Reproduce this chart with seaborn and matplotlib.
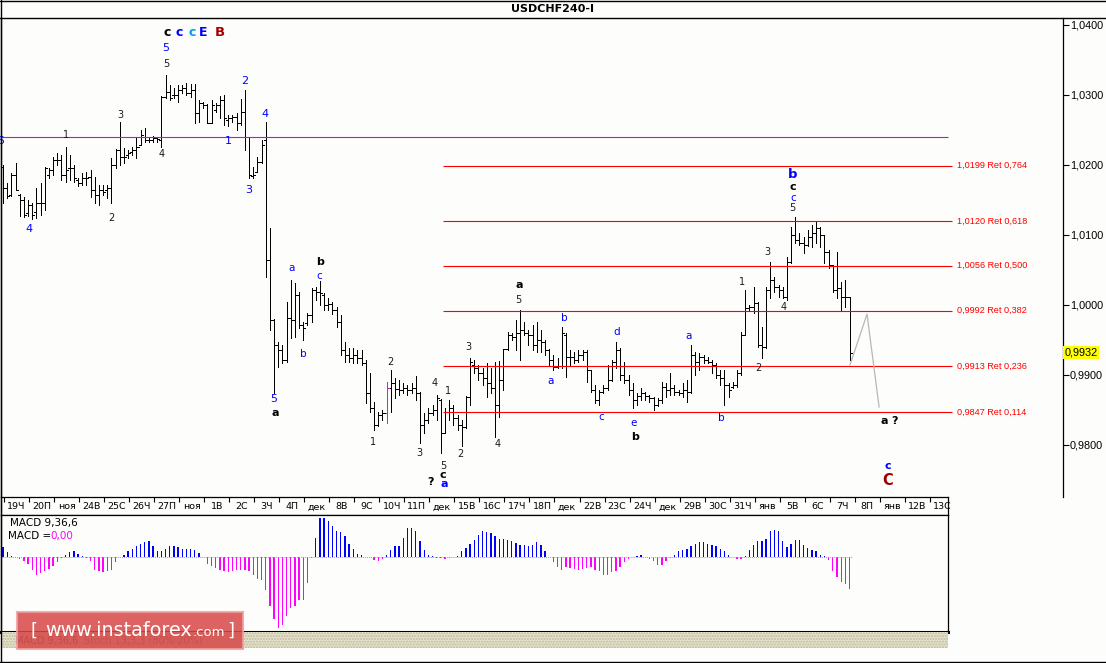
import matplotlib
matplotlib.use('Agg')
import matplotlib.pyplot as plt
import matplotlib.transforms as mtransforms
from matplotlib.patches import Rectangle
from matplotlib.lines import Line2D
import numpy as np
import pandas as pd
import seaborn as sns

# USDCHF H4 bars, prices in pips (price * 10000)
bar_open = [
    10197, 10167, 10157, 10186, 10157, 10150, 10131, 10143, 10133, 10146,
    10146, 10186, 10193, 10207, 10207, 10186, 10196, 10196, 10179, 10174,
    10181, 10183, 10164, 10157, 10164, 10164, 10167, 10200, 10221, 10211,
    10214, 10219, 10221, 10229, 10240, 10236, 10236, 10239, 10236, 10297,
    10304, 10300, 10300, 10307, 10310, 10303, 10307, 10274, 10289, 10286,
    10260, 10279, 10286, 10293, 10264, 10267, 10269, 10260, 10276, 10240,
    10184, 10190, 10204, 10236, 10064, 9979, 9943, 9936, 9921, 9981,
    9979, 10014, 9971, 9974, 9986, 10021, 10019, 10014, 10000, 10001,
    9993, 9976, 9936, 9929, 9924, 9929, 9924, 9917, 9874, 9853,
    9829, 9843, 9846, 9881, 9889, 9880, 9879, 9881, 9879, 9881,
    9874, 9829, 9836, 9846, 9850, 9864, 9817, 9847, 9853, 9839,
    9829, 9826, 9869, 9914, 9910, 9903, 9896, 9889, 9881, 9857,
    9893, 9937, 9957, 9954, 9960, 9964, 9960, 9957, 9943, 9950,
    9947, 9936, 9921, 9911, 9913, 9957, 9926, 9926, 9921, 9929,
    9933, 9907, 9879, 9864, 9876, 9881, 9893, 9919, 9936, 9900,
    9893, 9879, 9864, 9870, 9874, 9870, 9867, 9857, 9864, 9883,
    9879, 9881, 9876, 9874, 9879, 9876, 9929, 9919, 9926, 9921,
    9919, 9914, 9900, 9896, 9886, 9883, 9886, 9903, 9957, 9996,
    9997, 10003, 9943, 9940, 10021, 10036, 10026, 10021, 10011, 10061,
    10100, 10093, 10089, 10086, 10097, 10103, 10110, 10100, 10076, 10057,
    10021, 10024, 10011, 10011,
]
bar_high = [
    10200, 10174, 10189, 10203, 10159, 10154, 10150, 10146, 10167, 10174,
    10197, 10196, 10211, 10217, 10214, 10226, 10214, 10200, 10181, 10189,
    10190, 10193, 10183, 10171, 10171, 10171, 10210, 10223, 10261, 10224,
    10221, 10226, 10240, 10250, 10253, 10240, 10241, 10240, 10299, 10329,
    10314, 10310, 10314, 10314, 10317, 10316, 10316, 10293, 10290, 10287,
    10293, 10289, 10299, 10300, 10271, 10271, 10274, 10294, 10307, 10240,
    10197, 10211, 10236, 10261, 10110, 9980, 9947, 9943, 10004, 10036,
    10031, 10019, 9976, 9989, 10024, 10026, 10034, 10017, 10010, 10004,
    9997, 9986, 9947, 9939, 9939, 9936, 9936, 9921, 9903, 9861,
    9847, 9850, 9890, 9907, 9896, 9893, 9889, 9886, 9889, 9899,
    9876, 9846, 9853, 9857, 9871, 9866, 9853, 9864, 9857, 9843,
    9836, 9870, 9924, 9921, 9914, 9910, 9917, 9910, 9919, 9920,
    9937, 9961, 9960, 9979, 9993, 9976, 9964, 9971, 9976, 9964,
    9950, 9937, 9929, 9924, 9969, 9960, 9936, 9933, 9936, 9936,
    9936, 9907, 9886, 9879, 9886, 9914, 9921, 9947, 9939, 9919,
    9900, 9889, 9874, 9881, 9876, 9871, 9869, 9867, 9890, 9889,
    9903, 9886, 9879, 9889, 9893, 9943, 9933, 9931, 9929, 9926,
    9921, 9917, 9907, 9907, 9889, 9890, 9907, 9961, 10021, 10000,
    10026, 10004, 9969, 10026, 10061, 10040, 10029, 10026, 10069, 10111,
    10126, 10103, 10097, 10107, 10114, 10119, 10111, 10100, 10079, 10057,
    10076, 10033, 10036, 10011,
]
bar_low = [
    10146, 10153, 10156, 10164, 10127, 10126, 10127, 10123, 10124, 10129,
    10136, 10181, 10186, 10200, 10179, 10176, 10179, 10176, 10170, 10171,
    10171, 10154, 10146, 10143, 10157, 10153, 10146, 10196, 10200, 10203,
    10210, 10214, 10210, 10229, 10233, 10233, 10233, 10233, 10226, 10296,
    10293, 10296, 10290, 10303, 10300, 10297, 10260, 10261, 10281, 10260,
    10260, 10276, 10267, 10257, 10256, 10261, 10250, 10257, 10221, 10181,
    10181, 10190, 10203, 10040, 9964, 9874, 9911, 9917, 9919, 9953,
    9954, 9967, 9950, 9972, 9976, 10007, 10000, 9993, 9993, 9987,
    9969, 9929, 9919, 9919, 9917, 9917, 9914, 9860, 9847, 9821,
    9827, 9836, 9831, 9847, 9867, 9871, 9874, 9871, 9874, 9864,
    9803, 9817, 9831, 9843, 9836, 9789, 9817, 9836, 9829, 9821,
    9799, 9824, 9857, 9903, 9893, 9886, 9869, 9874, 9811, 9840,
    9879, 9936, 9950, 9936, 9921, 9957, 9943, 9936, 9933, 9933,
    9929, 9914, 9907, 9910, 9910, 9897, 9914, 9917, 9919, 9921,
    9890, 9876, 9860, 9857, 9874, 9879, 9891, 9910, 9893, 9889,
    9871, 9853, 9857, 9864, 9864, 9861, 9850, 9856, 9860, 9869,
    9871, 9871, 9871, 9869, 9861, 9874, 9900, 9907, 9917, 9917,
    9903, 9896, 9886, 9857, 9869, 9881, 9883, 9900, 9957, 9993,
    9989, 9940, 9924, 9939, 10010, 10019, 10011, 10010, 10007, 10060,
    10089, 10086, 10074, 10084, 10083, 10089, 10083, 10060, 10053, 10019,
    10010, 9993, 9997, 9921,
]
bar_close = [
    10167, 10156, 10186, 10164, 10150, 10129, 10143, 10129, 10146, 10146,
    10196, 10193, 10207, 10207, 10186, 10193, 10196, 10181, 10174, 10181,
    10181, 10164, 10157, 10164, 10161, 10167, 10200, 10221, 10211, 10211,
    10217, 10221, 10226, 10243, 10236, 10236, 10239, 10237, 10297, 10304,
    10296, 10300, 10307, 10310, 10303, 10307, 10274, 10289, 10286, 10260,
    10286, 10286, 10293, 10267, 10267, 10269, 10260, 10276, 10240, 10186,
    10186, 10204, 10229, 10064, 9979, 9943, 9936, 9921, 9981, 9979,
    10014, 9971, 9967, 9986, 10021, 10019, 10017, 10000, 10001, 9993,
    9976, 9936, 9929, 9924, 9929, 9924, 9917, 9874, 9853, 9829,
    9843, 9846, 9881, 9889, 9880, 9879, 9881, 9879, 9881, 9874,
    9829, 9836, 9846, 9850, 9867, 9817, 9847, 9853, 9839, 9829,
    9826, 9869, 9919, 9910, 9903, 9896, 9889, 9881, 9857, 9893,
    9937, 9957, 9954, 9960, 9964, 9960, 9957, 9943, 9950, 9947,
    9936, 9921, 9911, 9913, 9960, 9926, 9926, 9921, 9929, 9933,
    9907, 9879, 9864, 9876, 9881, 9893, 9919, 9936, 9900, 9893,
    9879, 9864, 9870, 9874, 9870, 9867, 9857, 9864, 9883, 9879,
    9881, 9876, 9874, 9879, 9876, 9929, 9919, 9926, 9921, 9919,
    9914, 9900, 9896, 9886, 9879, 9886, 9903, 9957, 9996, 9997,
    10003, 9943, 9940, 10021, 10036, 10026, 10021, 10011, 10061, 10100,
    10093, 10089, 10086, 10097, 10103, 10110, 10100, 10076, 10057, 10021,
    10024, 10011, 10011, 9932,
]
highlight_bar = 92  # magenta bar

# MACD(9,36,6) histogram, one value per bar (relative units)
macd_hist = [
    10, 4.7, 1.3, -1, -2, -4.3, -6.7, -12.7, -17.7, -16,
    -14.3, -12, -9.3, -5.3, -1, 2, 4.7, 5.7, 3.3, 0.7,
    -1, -4.3, -12.7, -14.3, -15.3, -14.3, -12.7, -5.3, -0.3, 2.3,
    5.7, 8.3, 10.7, 13.3, 15, 16.3, 11.3, 5.7, 5.7, 8.3,
    10.7, 10.7, 9.7, 8.3, 8.3, 8.3, 7.3, 4, 0, -6.7,
    -9.3, -11, -13.3, -14.3, -15, -13.7, -13.3, -12.7, -13.3, -14.3,
    -17.7, -22, -22.7, -32.7, -49.3, -62, -71, -67.7, -59.3, -51,
    -48.7, -43, -42.7, -26, -1, 19, 39, 39, 36.3, 31.3,
    25.7, 24.7, 20.7, 13.3, 8, 3.3, 2, 0, 0, -2.7,
    -3.7, -1.7, 2.3, 7.3, 10.7, 11.3, 19, 29, 29, 25.7,
    15.7, 7.3, 2.3, 0.7, -1, -1, -2, -1, 0, 1.3,
    5.7, 9, 13.3, 17.3, 22.3, 26.3, 24.7, 24, 20.7, 18,
    18, 17.3, 15.7, 14, 12.3, 12.3, 10.7, 12.3, 15, 12.3,
    6.3, 0, -5.3, -10, -12.7, -10, -11, -12, -12.7, -12,
    -11, -10.3, -12.7, -14.3, -18.3, -17.7, -15.3, -13.7, -10, -5.3,
    -2, 0, 1.3, 2.3, 0, -2, -4.3, -7.7, -7.7, -4.3,
    -1, 2.3, 5.7, 6.7, 8, 10.7, 13.3, 14.7, 14.7, 13.3,
    12.3, 10.7, 8, 6.3, 2.3, 0, -2, -2, 1.3, 7.3,
    12.3, 15.7, 15.7, 18, 25.7, 27.3, 25.7, 15.7, 10, 13.3,
    16.7, 17.3, 12.3, 9, 6.7, 5.7, 2.3, 1, -2.7, -14.3,
    -20, -25.3, -26.7, -32,
]

day_labels = ["19Ч", "20П", "ноя", "24В", "25С", "26Ч", "27П", "ноя", "1В", "2С",
              "3Ч", "4П", "дек", "8В", "9С", "10Ч", "11П", "дек", "15В", "16С",
              "17Ч", "18П", "дек", "22В", "23С", "24Ч", "дек", "29В", "30С", "31Ч",
              "янв", "5В", "6С", "7Ч", "8П", "янв", "12В", "13С"]
price_ticks = [1.04, 1.03, 1.02, 1.01, 1.00, 0.99, 0.98]
current_price = 0.9932

fib_levels = [1.0199, 1.0120, 1.0056, 0.9992, 0.9913, 0.9847]
fib_ratios = [0.764, 0.618, 0.500, 0.382, 0.236, 0.114]
fib_start_bar = 105.5
level_line = 1.0240

# projected path after the last bar
proj_bar = [203.1, 207.2, 210.1]
proj_price = [0.9914, 0.9987, 0.9854]

# wave marks: (bar, price, text, kind)
wave_marks = [
    (39.3, 1.0389, 'c', 'top_k'), (42.2, 1.0389, 'c', 'top_b'), (45.3, 1.0389, 'c', 'top_c'),
    (48.0, 1.0389, 'E', 'top_b'), (52.0, 1.0389, 'B', 'top_r'),
    (39.1, 1.0367, '5', 'bnum'), (39.1, 1.0344, '5', 'num'),
    (-0.6, 1.0234, '5', 'bnum'),
    (15.1, 1.0243, '1', 'num'), (28.1, 1.0271, '3', 'num'), (26.1, 1.0124, '2', 'num'),
    (6.2, 1.0109, '4', 'bnum'), (38.1, 1.0216, '4', 'num'),
    (58.0, 1.0320, '2', 'bnum'), (54.0, 1.0234, '1', 'bnum'), (58.8, 1.0164, '3', 'bnum'),
    (62.8, 1.0273, '4', 'bnum'),
    (69.1, 1.0053, 'a', 'sub'), (76.0, 1.0061, 'b', 'bold'), (75.8, 1.0041, 'c', 'sub'),
    (71.9, 0.9930, 'b', 'sub'), (65.0, 0.9866, '5', 'bnum'), (65.2, 0.9846, 'a', 'bold'),
    (88.7, 0.9804, '1', 'num'), (92.8, 0.9919, '2', 'num'), (99.8, 0.9789, '3', 'num'),
    (103.6, 0.9889, '4', 'num'), (106.7, 0.9877, '1', 'num'), (109.6, 0.9787, '2', 'num'),
    (105.5, 0.9770, '5', 'num'), (105.5, 0.9757, 'c', 'bold'), (105.8, 0.9744, 'a', 'bsub'),
    (102.6, 0.9747, '?', 'bold'),
    (111.5, 0.9940, '3', 'num'), (118.5, 0.9801, '4', 'num'), (123.5, 1.0007, '5', 'num'),
    (123.7, 1.0029, 'a', 'bold'),
    (134.5, 0.9981, 'b', 'sub'), (131.4, 0.9891, 'a', 'sub'), (147.2, 0.9961, 'd', 'sub'),
    (143.4, 0.9840, 'c', 'sub'), (151.3, 0.9831, 'e', 'sub'), (151.6, 0.9811, 'b', 'bold'),
    (164.3, 0.9956, 'a', 'sub'), (172.2, 0.9839, 'b', 'sub'),
    (177.2, 1.0033, '1', 'num'), (181.1, 0.9910, '2', 'num'), (183.2, 1.0076, '3', 'num'),
    (187.1, 0.9997, '4', 'num'),
    (189.4, 1.0186, 'b', 'big_b'), (189.4, 1.0169, 'c', 'bold'), (189.4, 1.0153, 'c', 'sub'),
    (189.4, 1.0139, '5', 'num'),
    (211.3, 0.9834, 'a', 'bold'), (213.9, 0.9834, '?', 'bold'),
    (212.2, 0.9770, 'c', 'bsub'), (212.2, 0.9749, 'C', 'big_r'),
]
mark_style = {
    'num':   dict(color='#1a1a1a', fontsize=7, fontweight='normal'),
    'bnum':  dict(color='#0000ff', fontsize=8, fontweight='normal'),
    'sub':   dict(color='#0000ff', fontsize=7.5, fontweight='normal'),
    'bsub':  dict(color='#0000ff', fontsize=8, fontweight='bold'),
    'bold':  dict(color='#000000', fontsize=8, fontweight='bold'),
    'big_b': dict(color='#0000ff', fontsize=9.5, fontweight='bold'),
    'big_r': dict(color='#9c0000', fontsize=10.5, fontweight='bold'),
    'top_k': dict(color='#000000', fontsize=9, fontweight='bold'),
    'top_b': dict(color='#0000ff', fontsize=9, fontweight='bold'),
    'top_c': dict(color='#0a9ee0', fontsize=9, fontweight='bold'),
    'top_r': dict(color='#a80000', fontsize=9.5, fontweight='bold'),
}

# ---- layout (pixels of the 1106x663 canvas) ----
W, H = 1106, 663
BG = '#fdfdfb'
STEP, ORIGIN = 4.17, 3.0  # px per bar, px of bar 0


def px_box(x0, y0, x1, y1):
    return [x0 / W, 1 - y1 / H, (x1 - x0) / W, (y1 - y0) / H]


def px_to_bar(px):
    return (px - ORIGIN) / STEP


sns.set_theme(style='white')
plt.rcParams['font.family'] = ['DejaVu Sans']

fig = plt.figure(figsize=(W / 100, H / 100), dpi=100, facecolor=BG)
ax = fig.add_axes(px_box(1, 18, 1063, 497))
ax_day = fig.add_axes(px_box(1, 497, 948, 515))
ax_macd = fig.add_axes(px_box(1, 515, 948, 632))
ax_band = fig.add_axes(px_box(1, 632, 948, 648))

o = np.array(bar_open) / 10000
h = np.array(bar_high) / 10000
l = np.array(bar_low) / 10000
c = np.array(bar_close) / 10000
idx = np.arange(len(o))
colors = np.where(idx == highlight_bar, '#ff00ff', '#000000')

# ---- price panel ----
ax.set_facecolor(BG)
ax.vlines(idx, l, h, colors=colors, lw=0.6, antialiased=False)
ax.hlines(o, idx - 0.5, idx, colors=colors, lw=0.6, antialiased=False)
ax.hlines(c, idx, idx + 0.5, colors=colors, lw=0.6, antialiased=False)

x_end = px_to_bar(948)
ax.hlines(level_line, px_to_bar(0), x_end, color='#e000e0', lw=0.8)
ax.hlines(fib_levels, fib_start_bar, px_to_bar(952), color='#ff0000', lw=0.8)
for lev, rat in zip(fib_levels, fib_ratios):
    txt = f"{lev:.4f} Ret {rat:.3f}".replace('.', ',')
    ax.text(px_to_bar(957), lev, txt, color='#ff0000', fontsize=6.6,
            family='Liberation Sans', ha='left', va='center')

ax.plot(proj_bar, proj_price, color='#b8b8b8', lw=0.9)

for b, p, t, kind in wave_marks:
    ax.text(b, p, t, ha='center', va='center', **mark_style[kind])

ax.set_xlim(px_to_bar(1), px_to_bar(1063))
ax.set_ylim(1 + (305 - 497) / 7000, 1 + (305 - 18) / 7000)
ax.set_xticks([])
ax.yaxis.tick_right()
ax.set_yticks(price_ticks)
ax.set_yticklabels([f"{p:.4f}".replace('.', ',') for p in price_ticks],
                   family='Liberation Sans', fontsize=7.8)
ax.tick_params(axis='y', direction='out', length=4, width=0.8, pad=1, colors='black')
for side in ['top', 'bottom']:
    ax.spines[side].set_visible(False)
for side in ['left', 'right']:
    ax.spines[side].set_color('black')
    ax.spines[side].set_linewidth(0.9)

trans = mtransforms.blended_transform_factory(ax.transAxes, ax.transData)
ax.text(1.0015, current_price, f"{current_price:.4f}".replace('.', ','), transform=trans,
        ha='left', va='center', fontsize=7.8, family='Liberation Sans', color='black',
        bbox=dict(boxstyle='square,pad=0.12', facecolor='#ffff00', edgecolor='none'))

# ---- day strip ----
ax_day.set_facecolor(BG)
ax_day.set_xlim(px_to_bar(1), x_end)
ax_day.set_ylim(0, 1)
tick_pos = np.arange(len(day_labels)) * 6 + 0.25
ax_day.vlines(tick_pos, 0.72, 1, color='black', lw=0.8)
for p, lab in zip(tick_pos, day_labels):
    ax_day.text(p + 3, 0.45, lab, ha='center', va='center', fontsize=6.8, color='black')
ax_day.set_xticks([])
ax_day.set_yticks([])

# ---- MACD panel ----
macd_df = pd.DataFrame({'bar': idx, 'hist': macd_hist})
macd_df['side'] = np.where(macd_df['hist'] >= 0, 'up', 'down')
sns.barplot(data=macd_df, x='bar', y='hist', hue='side',
            palette={'up': '#0000ff', 'down': '#ff00ff'}, native_scale=True,
            width=0.32, dodge=False, errorbar=None, legend=False, saturation=1,
            linewidth=0, ax=ax_macd)
for patch in ax_macd.patches:
    patch.set_antialiased(False)
ax_macd.hlines(0, -0.5, len(idx) - 0.5, color='#a0a0a0', lw=0.7, linestyles=(0, (1, 1)))
ax_macd.set_facecolor(BG)
ax_macd.set_xlim(px_to_bar(1), x_end)
ax_macd.set_ylim(-75, 42)
ax_macd.set_xticks([])
ax_macd.set_yticks([])
ax_macd.set_xlabel('')
ax_macd.set_ylabel('')
ax_macd.text(0.01, 0.93, 'MACD 9,36,6', transform=ax_macd.transAxes, fontsize=7.5,
             ha='left', va='center', color='black')
ax_macd.text(0.007, 0.82, 'MACD =', transform=ax_macd.transAxes, fontsize=7.5,
             ha='left', va='center', color='black')
ax_macd.text(0.052, 0.82, '0,00', transform=ax_macd.transAxes, fontsize=7.5,
             ha='left', va='center', color='#ff00ff')

for a in [ax_day, ax_macd]:
    for s in a.spines.values():
        s.set_color('black')
        s.set_linewidth(0.9)
ax_macd.spines['bottom'].set_linewidth(2.2)

# ---- hatched band with indicator tabs ----
ax_band.set_xlim(0, 1)
ax_band.set_ylim(0, 1)
ax_band.add_patch(Rectangle((0, 0), 1, 1, facecolor='#e6e3cf', edgecolor='#bdb89a',
                            hatch='......', lw=0))
ax_band.text(0.015, 0.45, 'MACD 9,36,6', fontsize=7, color='#555555', va='center')
ax_band.text(0.088, 0.45, 'Stoch 13,3,3 (80%-20%)', fontsize=7, color='#777777', va='center')
ax_band.axis('off')

# ---- frame lines ----
for y in [0.5, 18, 662]:
    fig.add_artist(Line2D([0, 1], [1 - y / H, 1 - y / H], color='black', lw=1.0))
fig.add_artist(Line2D([0.5 / W, 0.5 / W], [0, 1], color='black', lw=1.0))

fig.text(553 / W, 1 - 9 / H, 'USDCHF240-I', ha='center', va='center',
         fontsize=8, fontweight='bold', color='black')

# ---- watermark ----
fig.add_artist(Rectangle((17 / W, 1 - 649 / H), 226 / W, 37 / H, transform=fig.transFigure,
                         facecolor='#d84848', edgecolor='#eea0a0', lw=1.5, alpha=0.85))
fig.text(31 / W, 1 - 631 / H, '[', color='white', fontsize=13, va='center', ha='left')
fig.text(45 / W, 1 - 631 / H, 'www.instaforex', color='white', fontsize=13.8, va='center', ha='left')
fig.text(193 / W, 1 - 633 / H, '.com', color='white', fontsize=9.5, va='center', ha='left')
fig.text(227 / W, 1 - 631 / H, ']', color='white', fontsize=13, va='center', ha='left')

fig.savefig('out.png', dpi=100, facecolor=BG)
